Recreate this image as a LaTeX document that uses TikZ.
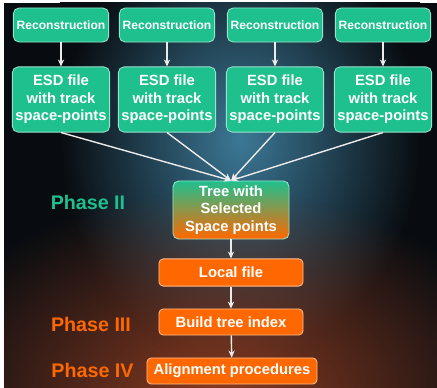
\documentclass[tikz,border=0pt]{standalone}
\usepackage{fontspec}
\setmainfont{Liberation Sans}
\usetikzlibrary{positioning,arrows.meta,fadings}
\definecolor{aligngreen}{RGB}{30,192,142}
\definecolor{alignorange}{RGB}{255,104,0}
\definecolor{alignmid}{RGB}{192,150,122}
\definecolor{aligndark}{RGB}{8,12,16}
\definecolor{alignblue}{RGB}{60,120,150}
\definecolor{alignbrown}{RGB}{140,60,34}
\tikzfading[name=softglow,inner color=transparent!0,outer color=transparent!100]

\begin{document}
\begin{tikzpicture}[x=0.025cm,y=-0.025cm,font=\bfseries,
    greenbox/.style={draw=white!55!aligngreen,fill=aligngreen,line width=0.6pt,
        rounded corners=4pt,text=white,align=center,inner sep=0pt},
    orangebox/.style={draw=white!55!alignorange,fill=alignorange,line width=0.6pt,
        rounded corners=3pt,text=white,align=center,inner sep=0pt,
        font=\bfseries\fontsize{10.5}{12.5}\selectfont},
    phase/.style={font=\bfseries\fontsize{14}{16}\selectfont},
    flow/.style={white!92!black,line width=1pt,-{Stealth[length=5pt,width=4.5pt]}}]
    \useasboundingbox (0,0) rectangle (437,388);
    % Fundo
    \fill[aligndark] (4,3) rectangle (437,388);
    \begin{scope}
        \clip (4,3) rectangle (437,388);
        \shade[inner color=alignblue,outer color=aligndark] (60,-80) rectangle (420,360);
        \fill[alignbrown,path fading=softglow] (-90,190) rectangle (530,610);
    \end{scope}
    % Reconstrucao e arquivos ESD
    \foreach \n/\x in {1/61,2/167,3/275,4/383}{
        \node[greenbox,minimum width=2.38cm,minimum height=0.85cm,
              font=\bfseries\fontsize{8.6}{10}\selectfont] (rec\n) at (\x,25) {Reconstruction};
        \node[greenbox,minimum width=2.43cm,minimum height=1.63cm,
              font=\bfseries\fontsize{10.5}{12.5}\selectfont] (esd\n) at (\x,99.5)
              {ESD file\\with track\\space-points};
        \draw[flow] (rec\n) -- (esd\n);
    }
    % Arvore com pontos selecionados
    \node[draw=white!55!aligngreen,line width=0.6pt,rounded corners=4pt,
          top color=aligngreen,middle color=alignmid,bottom color=alignorange,
          text=white,align=center,inner sep=0pt,minimum width=2.9cm,minimum height=1.45cm,
          font=\bfseries\fontsize{10.5}{12.5}\selectfont] (tree) at (231,210)
          {Tree with\\Selected\\Space points};
    \foreach \n in {1,...,4}{
        \draw[flow] (esd\n.south) -- (tree.north);
    }
    \node[orangebox,minimum width=3.6cm,minimum height=0.68cm] (local) at (231,272.5) {Local file};
    \node[orangebox,minimum width=3.6cm,minimum height=0.65cm] (index) at (231,322) {Build tree index};
    \node[orangebox,minimum width=4.25cm,minimum height=0.65cm] (align) at (232,371) {Alignment procedures};
    \draw[flow] (tree) -- (local);
    \draw[flow] (local) -- (index);
    \draw[flow] (index) -- (align);
    % Fases
    \node[phase,text=aligngreen] (ph2) at (88,202) {Phase II};
    \node[phase,text=alignorange] (ph3) at (91,324) {Phase III};
    \node[phase,text=alignorange] (ph4) at (92.5,370) {Phase IV};
\end{tikzpicture}
\end{document}
